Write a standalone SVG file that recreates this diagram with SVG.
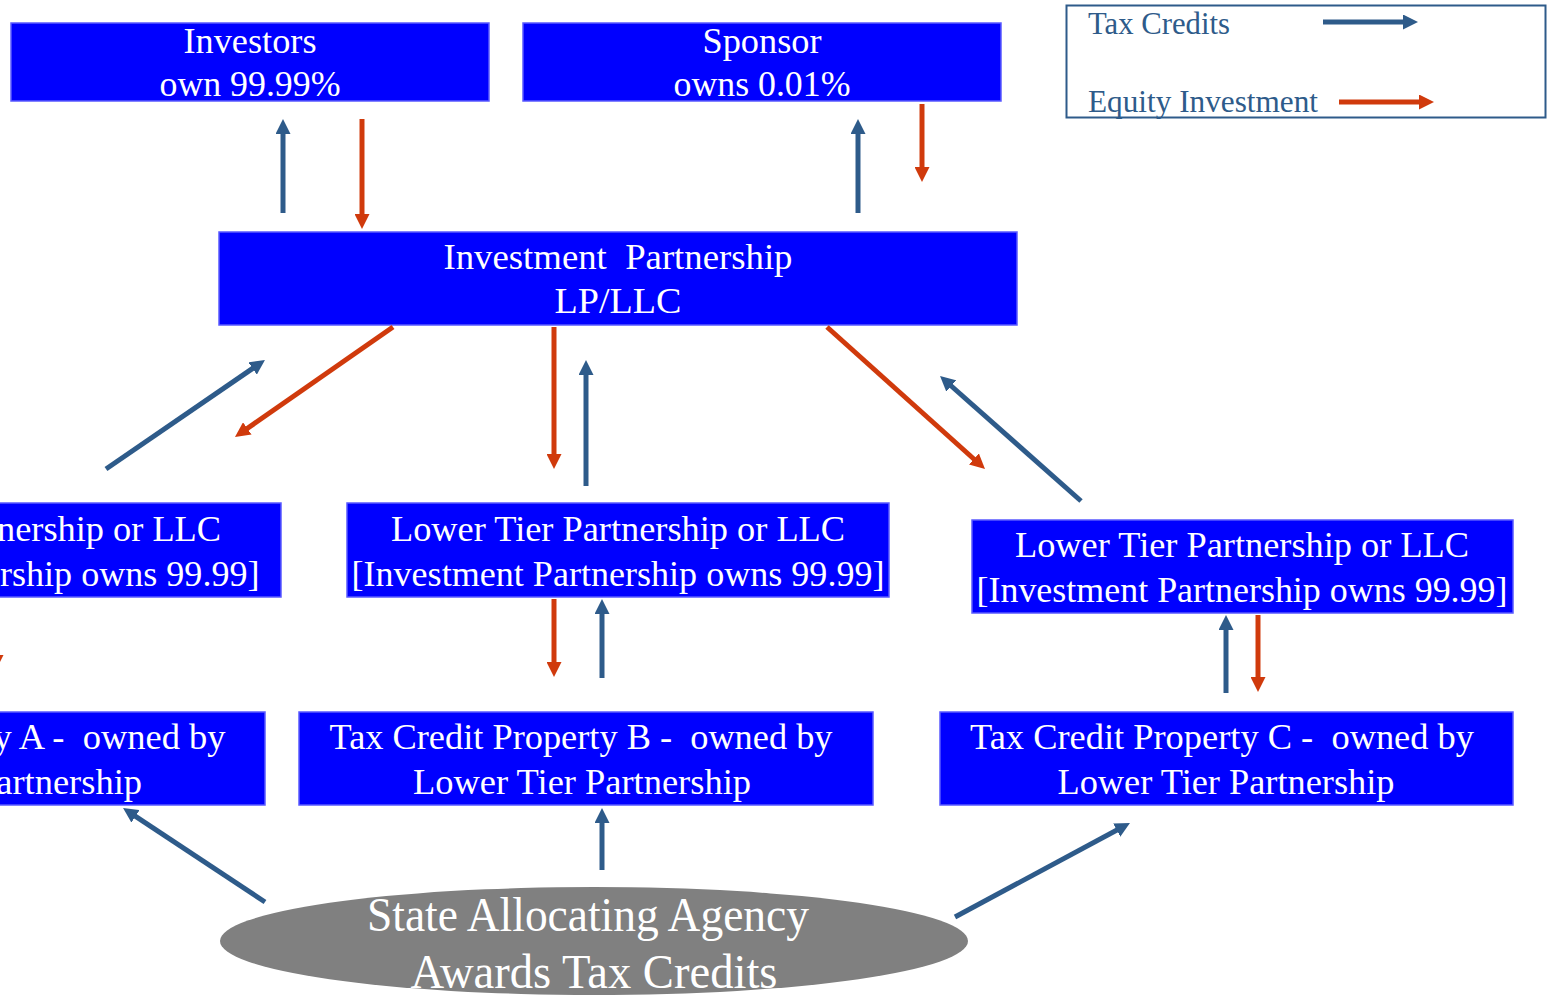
<svg xmlns="http://www.w3.org/2000/svg" width="1547" height="1002" viewBox="0 0 1547 1002">
  <style>
    .box { fill: #0000FF; stroke: #5A5AFF; stroke-width: 1.5; }
    .t { font-family: "Liberation Serif", "DejaVu Serif", serif; font-size: 35px; fill: #FFFFFF; text-anchor: middle; white-space: pre; }
    .big { font-size: 48px; }
    .leg { font-family: "Liberation Serif", "DejaVu Serif", serif; font-size: 31px; fill: #2E5B8A; }
    .tc { stroke: #2E5B8A; stroke-width: 5; fill: none; marker-end: url(#headTC); }
    .eq { stroke: #D03A0C; stroke-width: 5; fill: none; marker-end: url(#headEQ); }
  </style>
  <defs>
    <marker id="headTC" viewBox="0 0 10 10" refX="3" refY="5" markerWidth="3" markerHeight="3" orient="auto">
      <path d="M0,0 L10,5 L0,10 z" fill="#2E5B8A"/>
    </marker>
    <marker id="headEQ" viewBox="0 0 10 10" refX="3" refY="5" markerWidth="3" markerHeight="3" orient="auto">
      <path d="M0,0 L10,5 L0,10 z" fill="#D03A0C"/>
    </marker>
  </defs>

  <rect x="0" y="0" width="1547" height="1002" fill="#FFFFFF"/>

  <!-- Legend -->
  <g id="legend">
    <rect x="1066.5" y="5.5" width="479" height="112" fill="none" stroke="#2E5B8A" stroke-width="2"/>
    <text class="leg" x="1088" y="34" textLength="142" lengthAdjust="spacingAndGlyphs">Tax Credits</text>
    <line class="tc" x1="1323" y1="22" x2="1407.5" y2="22"/>
    <text class="leg" x="1088" y="112" textLength="230" lengthAdjust="spacingAndGlyphs">Equity Investment</text>
    <line class="eq" x1="1339" y1="102" x2="1423.5" y2="102"/>
  </g>

  <!-- Nodes -->
  <g id="investors">
    <rect class="box" x="11" y="23" width="478" height="78"/>
    <text class="t" x="250" y="53" textLength="133" lengthAdjust="spacingAndGlyphs">Investors</text>
    <text class="t" x="250" y="96" textLength="181" lengthAdjust="spacingAndGlyphs">own 99.99%</text>
  </g>
  <g id="sponsor">
    <rect class="box" x="523" y="23" width="478" height="78"/>
    <text class="t" x="762" y="53" textLength="119" lengthAdjust="spacingAndGlyphs">Sponsor</text>
    <text class="t" x="762" y="96" textLength="177" lengthAdjust="spacingAndGlyphs">owns 0.01%</text>
  </g>
  <g id="investment-partnership">
    <rect class="box" x="219" y="232" width="798" height="93"/>
    <text class="t" x="618" y="269" textLength="349" lengthAdjust="spacingAndGlyphs" xml:space="preserve">Investment  Partnership</text>
    <text class="t" x="618" y="313" textLength="127" lengthAdjust="spacingAndGlyphs">LP/LLC</text>
  </g>
  <g id="lower-tier-a">
    <rect class="box" x="-300" y="503" width="581" height="94"/>
    <text class="t" x="-6" y="541" textLength="454" lengthAdjust="spacingAndGlyphs">Lower Tier Partnership or LLC</text>
    <text class="t" x="-7" y="586" textLength="533" lengthAdjust="spacingAndGlyphs">[Investment Partnership owns 99.99]</text>
  </g>
  <g id="lower-tier-b">
    <rect class="box" x="347" y="503" width="542" height="94"/>
    <text class="t" x="618" y="541" textLength="454" lengthAdjust="spacingAndGlyphs">Lower Tier Partnership or LLC</text>
    <text class="t" x="618" y="586" textLength="533" lengthAdjust="spacingAndGlyphs">[Investment Partnership owns 99.99]</text>
  </g>
  <g id="lower-tier-c">
    <rect class="box" x="972" y="520" width="541" height="93"/>
    <text class="t" x="1242" y="557" textLength="454" lengthAdjust="spacingAndGlyphs">Lower Tier Partnership or LLC</text>
    <text class="t" x="1242" y="602" textLength="531" lengthAdjust="spacingAndGlyphs">[Investment Partnership owns 99.99]</text>
  </g>
  <g id="property-a">
    <rect class="box" x="-309" y="712" width="574" height="93"/>
    <text class="t" x="-26" y="749" textLength="503" lengthAdjust="spacingAndGlyphs" xml:space="preserve">Tax Credit Property A -  owned by</text>
    <text class="t" x="-27" y="794" textLength="338" lengthAdjust="spacingAndGlyphs">Lower Tier Partnership</text>
  </g>
  <g id="property-b">
    <rect class="box" x="299" y="712" width="574" height="93"/>
    <text class="t" x="581" y="749" textLength="503" lengthAdjust="spacingAndGlyphs" xml:space="preserve">Tax Credit Property B -  owned by</text>
    <text class="t" x="582" y="794" textLength="338" lengthAdjust="spacingAndGlyphs">Lower Tier Partnership</text>
  </g>
  <g id="property-c">
    <rect class="box" x="940" y="712" width="573" height="93"/>
    <text class="t" x="1222" y="749" textLength="504" lengthAdjust="spacingAndGlyphs" xml:space="preserve">Tax Credit Property C -  owned by</text>
    <text class="t" x="1226" y="794" textLength="337" lengthAdjust="spacingAndGlyphs">Lower Tier Partnership</text>
  </g>
  <g id="state-agency">
    <ellipse cx="594" cy="941" rx="374" ry="54" fill="#808080"/>
    <text class="t big" x="588" y="931" textLength="442" lengthAdjust="spacingAndGlyphs">State Allocating Agency</text>
    <text class="t big" x="594" y="988" textLength="367" lengthAdjust="spacingAndGlyphs">Awards Tax Credits</text>
  </g>

  <!-- Connectors -->
  <g id="connectors">
    <line class="tc" x1="283" y1="213" x2="283" y2="129.5"/>
    <line class="eq" x1="362" y1="119" x2="362" y2="218.5"/>
    <line class="tc" x1="858" y1="213" x2="858" y2="129.5"/>
    <line class="eq" x1="922" y1="104" x2="922" y2="171.5"/>

    <line class="eq" x1="393" y1="327" x2="243.6" y2="431"/>
    <line class="tc" x1="106" y1="469" x2="256.3" y2="365.9"/>
    <line class="eq" x1="554" y1="327" x2="554" y2="458.5"/>
    <line class="tc" x1="586" y1="486" x2="586" y2="370.5"/>
    <line class="eq" x1="827" y1="327" x2="977.2" y2="462"/>
    <line class="tc" x1="1081" y1="501" x2="947.9" y2="383"/>

    <line class="eq" x1="-4" y1="600" x2="-4" y2="659.5"/>
    <line class="eq" x1="554" y1="599" x2="554" y2="666.5"/>
    <line class="tc" x1="602" y1="678" x2="602" y2="609.5"/>
    <line class="tc" x1="1226" y1="693" x2="1226" y2="625.5"/>
    <line class="eq" x1="1258" y1="615" x2="1258" y2="681.5"/>

    <line class="tc" x1="265" y1="902" x2="131.8" y2="813.8"/>
    <line class="tc" x1="602" y1="870" x2="602" y2="818.5"/>
    <line class="tc" x1="955" y1="917" x2="1120.7" y2="828"/>
  </g>
</svg>
